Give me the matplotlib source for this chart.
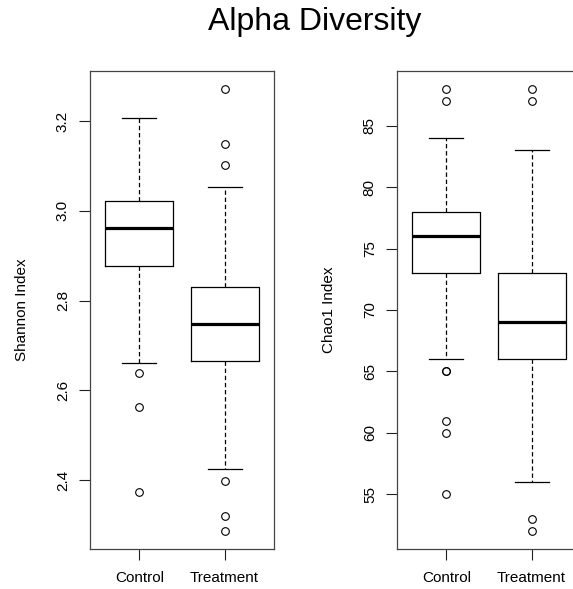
import matplotlib.pyplot as plt

plt.rcParams['font.family'] = ['Liberation Sans', 'DejaVu Sans']

groups = ['Control', 'Treatment']

# Shannon index box stats
shannon_med = [2.961, 2.748]
shannon_q1 = [2.876, 2.665]
shannon_q3 = [3.022, 2.831]
shannon_lo = [2.662, 2.424]
shannon_hi = [3.207, 3.054]
shannon_out = [[2.638, 2.564, 2.373], [3.272, 3.148, 3.103, 2.399, 2.321, 2.286]]
shannon_ticks = [2.4, 2.6, 2.8, 3.0, 3.2]

# Chao1 index box stats
chao_med = [76, 69]
chao_q1 = [73, 66]
chao_q3 = [78, 73]
chao_lo = [66, 56]
chao_hi = [84, 83]
chao_out = [[88, 87, 65, 65, 61, 60, 55], [88, 87, 53, 52]]
chao_ticks = [55, 60, 65, 70, 75, 80, 85]

W, H = 573, 589
fig = plt.figure(figsize=(W / 100, H / 100), dpi=100)


def panel(left, med, q1, q3, lo, hi, out, ticks, ylabel):
    ax = fig.add_axes([left / W, 40 / H, 184 / W, 478 / H])
    stats = []
    for i in range(len(groups)):
        stats.append(dict(med=med[i], q1=q1[i], q3=q3[i], whislo=lo[i],
                          whishi=hi[i], fliers=out[i], label=groups[i]))
    ax.bxp(stats, positions=[1, 2], widths=0.8, showfliers=True,
           boxprops=dict(color='black', linewidth=0.9),
           medianprops=dict(color='black', linewidth=2.3, solid_capstyle='butt'),
           whiskerprops=dict(color='black', linewidth=0.9, linestyle=(0, (3.5, 2.2))),
           capprops=dict(color='black', linewidth=0.9),
           capwidths=0.4,
           flierprops=dict(marker='o', markersize=5.5, markerfacecolor='none',
                           markeredgecolor='black', markeredgewidth=0.8))
    allv = lo + hi + [v for o in out for v in o]
    rng = max(allv) - min(allv)
    ax.set_ylim(min(allv) - 0.04 * rng, max(allv) + 0.04 * rng)
    ax.set_xlim(0.42, 2.58)
    ax.set_yticks(ticks)
    ax.set_yticklabels([('%g' % t) if isinstance(t, int) else '%.1f' % t for t in ticks],
                       rotation=90, va='center')
    ax.tick_params(length=8, width=0.8, labelsize=11, color='#222222')
    ax.tick_params(axis='y', pad=6.5)
    ax.tick_params(axis='x', pad=8)
    for s in ax.spines.values():
        s.set_color('#444444')
        s.set_linewidth(0.9)
    ax.set_ylabel(ylabel, fontsize=11, labelpad=19.5)
    return ax


panel(90, shannon_med, shannon_q1, shannon_q3, shannon_lo, shannon_hi,
      shannon_out, shannon_ticks, 'Shannon Index')
panel(397, chao_med, chao_q1, chao_q3, chao_lo, chao_hi,
      chao_out, chao_ticks, 'Chao1 Index')

fig.text(315 / W, 1 - 30 / H, 'Alpha Diversity', fontsize=23, ha='center', va='baseline')

fig.savefig('out.png', dpi=100)
